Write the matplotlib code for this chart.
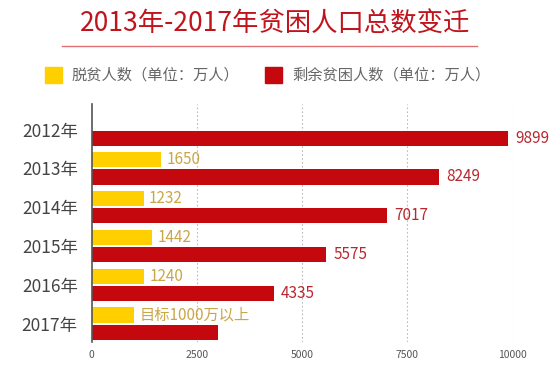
import numpy as np
import matplotlib.pyplot as plt
from matplotlib.patches import Rectangle
from matplotlib.lines import Line2D

plt.rcParams['font.family'] = ['Noto Sans CJK SC', 'DejaVu Sans']

years = ['2012年', '2013年', '2014年', '2015年', '2016年', '2017年']
lifted = [0, 1650, 1232, 1442, 1240, 1000]
lifted_labels = ['', '1650', '1232', '1442', '1240', '目标1000万以上']
remaining = [9899, 8249, 7017, 5575, 4335, 3000]
remaining_labels = ['9899', '8249', '7017', '5575', '4335', '']
xticks = [0, 2500, 5000, 7500, 10000]

YELLOW = '#ffcf00'
RED = '#c4080e'
YELLOW_TXT = '#c9a648'
RED_TXT = '#b8282e'


def main():
    fig = plt.figure(figsize=(5.5, 3.88), dpi=100)
    ax = fig.add_axes([0.1667, 0.1186, 0.7655, 0.6134])

    y = np.arange(len(years))
    h = 0.39
    off = 0.222

    ax.barh(y - off, lifted, height=h, color=YELLOW, zorder=3)
    ax.barh(y + off, remaining, height=h, color=RED, zorder=3)

    for i in range(len(years)):
        if lifted_labels[i]:
            ax.annotate(lifted_labels[i], (lifted[i], y[i] - off), xytext=(4, 0),
                        textcoords='offset points', va='center', ha='left',
                        fontsize=11, color=YELLOW_TXT, annotation_clip=False)
        if remaining_labels[i]:
            ax.annotate(remaining_labels[i], (remaining[i], y[i] + off), xytext=(5, 0),
                        textcoords='offset points', va='center', ha='left',
                        fontsize=11, color=RED_TXT, annotation_clip=False)

    ax.set_xlim(0, 10000)
    ax.set_ylim(5.475, -0.66)
    ax.set_yticks(y)
    ax.set_yticklabels(years, fontsize=12.5, color='#444444')
    ax.set_xticks(xticks)
    ax.set_xticklabels([str(t) for t in xticks], fontsize=7.5, color='#555555')
    ax.tick_params(axis='both', length=0)
    ax.tick_params(axis='y', pad=10)
    ax.tick_params(axis='x', pad=6)

    for s in ['top', 'right', 'bottom']:
        ax.spines[s].set_visible(False)
    ax.spines['left'].set_color('#555555')
    ax.spines['left'].set_linewidth(1.2)
    ax.spines['left'].set_zorder(4)

    for t in xticks[1:]:
        ax.axvline(t, color='#bbbbbb', linestyle=(0, (1.5, 2)), linewidth=0.8, zorder=1)

    # title and underline
    fig.text(0.5, 1 - 23 / 388, '2013年-2017年贫困人口总数变迁', ha='center', va='center',
             fontsize=19, color='#c0141c', fontweight='medium')
    fig.add_artist(Line2D([62 / 550, 477 / 550], [1 - 46 / 388, 1 - 46 / 388],
                          color='#de6f73', linewidth=1.0))

    # legend
    fig.add_artist(Rectangle((45 / 550, 1 - 83 / 388), 17 / 550, 16 / 388,
                             color=YELLOW, transform=fig.transFigure))
    fig.text(72 / 550, 1 - 75 / 388, '脱贫人数（单位：万人）', ha='left', va='center',
             fontsize=11, color='#666666')
    fig.add_artist(Rectangle((265 / 550, 1 - 83 / 388), 17 / 550, 16 / 388,
                             color=RED, transform=fig.transFigure))
    fig.text(292 / 550, 1 - 75 / 388, '剩余贫困人数（单位：万人）', ha='left', va='center',
             fontsize=11, color='#666666')

    fig.savefig('out.png', dpi=100)


if __name__ == '__main__':
    main()
